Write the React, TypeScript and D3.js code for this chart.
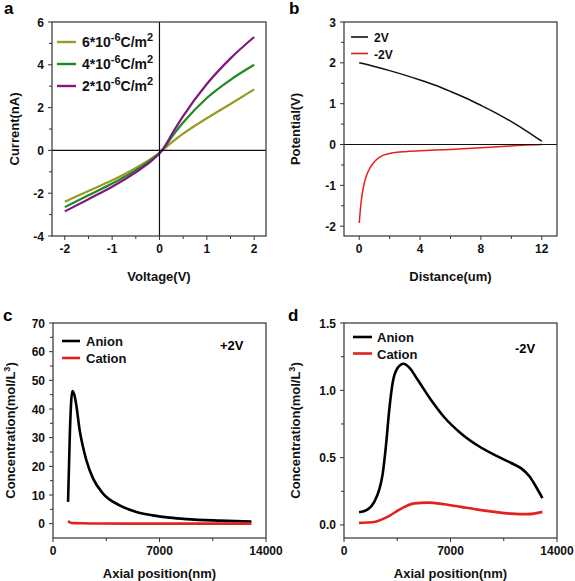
import React from "react";
import * as d3 from "d3";

// ---------- Panel a data ----------
const aVoltage = [-2, -1.5, -1, -0.5, -0.2, -0.05, 0, 0.1, 0.3, 0.5, 1, 1.5, 2];
const aSeries6 = [-2.4, -1.9, -1.4, -0.82, -0.42, -0.2, -0.12, 0.08, 0.45, 0.78, 1.5, 2.17, 2.85];
const aSeries4 = [-2.65, -2.1, -1.55, -0.92, -0.48, -0.22, -0.13, 0.12, 0.75, 1.3, 2.45, 3.3, 4.0];
const aSeries2 = [-2.85, -2.28, -1.7, -1.02, -0.55, -0.25, -0.14, 0.15, 0.9, 1.6, 3.1, 4.3, 5.3];
const aLabels = ["6", "4", "2"];
const aColors = ["#9a9a26", "#1f8a22", "#82177f"];

// ---------- Panel b data ----------
const bDistance2V = [0, 1, 2, 3, 4, 5, 6, 7, 8, 9, 10, 11, 12];
const bPotential2V = [2.0, 1.91, 1.81, 1.7, 1.58, 1.45, 1.3, 1.14, 0.96, 0.77, 0.56, 0.33, 0.08];
const bDistanceM2V = [0, 0.05, 0.1, 0.2, 0.35, 0.5, 0.7, 1, 1.3, 1.6, 2, 2.5, 3, 4, 6, 8, 10, 11, 12];
const bPotentialM2V = [-1.92, -1.7, -1.5, -1.2, -0.92, -0.74, -0.58, -0.42, -0.32, -0.26, -0.22, -0.19, -0.175, -0.155, -0.12, -0.08, -0.035, -0.012, 0];
const bLabels = ["2V", "-2V"];
const bColors = ["#111111", "#e3211e"];

// ---------- Panel c data ----------
const cPosAnion = [990, 1100, 1200, 1270, 1400, 1530, 1750, 1970, 2190, 2630, 3290, 4380, 5480, 6570, 7670, 8760, 10950, 13040];
const cAnion = [7.6, 30, 43, 46.3, 45, 41.4, 32.7, 26.8, 22.2, 15.8, 10.5, 6.4, 4.1, 2.9, 2.1, 1.6, 1.05, 0.7];
const cPosCation = [990, 1150, 1400, 2000, 3000, 5000, 8000, 13040];
const cCation = [0.9, 0.35, 0.2, 0.12, 0.06, 0.03, 0.02, 0.02];

// ---------- Panel d data ----------
const dPosAnion = [990, 1540, 1980, 2310, 2530, 2750, 2970, 3190, 3520, 3910, 4280, 4830, 5710, 6590, 7690, 8790, 9890, 10990, 11650, 12200, 12640, 13040];
const dAnion = [0.094, 0.114, 0.17, 0.26, 0.37, 0.58, 0.85, 1.05, 1.165, 1.197, 1.17, 1.08, 0.93, 0.8, 0.68, 0.59, 0.52, 0.46, 0.42, 0.36, 0.28, 0.2];
const dPosCation = [990, 1980, 2860, 3740, 4610, 5490, 6590, 7690, 8790, 9890, 10990, 12090, 13040];
const dCation = [0.015, 0.022, 0.06, 0.12, 0.16, 0.166, 0.154, 0.134, 0.114, 0.097, 0.084, 0.08, 0.097];
const ionLabels = ["Anion", "Cation"];
const ionColors = ["#000000", "#e3211e"];

const FONT = "'Liberation Sans', Arial, sans-serif";

type Series = { xs: number[]; ys: number[]; color: string; width: number };

type PanelProps = {
  x0: number; x1: number; y0: number; y1: number;
  xDomain: [number, number]; yDomain: [number, number];
  xTicks: number[]; xMinor: number[]; yTicks: number[]; yMinor: number[];
  xFormat: (v: number) => string; yFormat: (v: number) => string;
  xTitle: string; yTitle: React.ReactNode; yTitleX: number; xTitleY: number;
  series: Series[];
  zeroX?: boolean; zeroY?: boolean;
  children?: (xs: d3.ScaleLinear<number, number>, ys: d3.ScaleLinear<number, number>) => React.ReactNode;
};

function Panel(p: PanelProps) {
  const xs = d3.scaleLinear().domain(p.xDomain).range([p.x0, p.x1]);
  const ys = d3.scaleLinear().domain(p.yDomain).range([p.y1, p.y0]);
  const frame = "#333";
  return (
    <g>
      {p.series.map((s, i) => {
        const pts: [number, number][] = s.xs.map((x, j) => [x, s.ys[j]]);
        const line = d3
          .line<[number, number]>()
          .x((d) => xs(d[0]))
          .y((d) => ys(d[1]))
          .curve(d3.curveMonotoneX);
        return <path key={i} d={line(pts) || ""} fill="none" stroke={s.color} strokeWidth={s.width} strokeLinejoin="round" />;
      })}
      {p.zeroY && <line x1={p.x0} x2={p.x1} y1={ys(0)} y2={ys(0)} stroke="#111" strokeWidth={1.2} />}
      {p.zeroX && <line x1={xs(0)} x2={xs(0)} y1={p.y0} y2={p.y1} stroke="#111" strokeWidth={1.2} />}
      <rect x={p.x0} y={p.y0} width={p.x1 - p.x0} height={p.y1 - p.y0} fill="none" stroke={frame} strokeWidth={1.2} />
      {p.xTicks.map((t) => (
        <g key={"xt" + t}>
          <line x1={xs(t)} x2={xs(t)} y1={p.y1} y2={p.y1 + 4} stroke={frame} strokeWidth={1} />
          <text x={xs(t)} y={p.y1 + 17} textAnchor="middle" fontSize={12} fontWeight="bold" fontFamily={FONT} fill="#111">
            {p.xFormat(t)}
          </text>
        </g>
      ))}
      {p.xMinor.map((t) => (
        <line key={"xm" + t} x1={xs(t)} x2={xs(t)} y1={p.y1} y2={p.y1 + 3} stroke={frame} strokeWidth={1} />
      ))}
      {p.yTicks.map((t) => (
        <g key={"yt" + t}>
          <line x1={p.x0 - 4} x2={p.x0} y1={ys(t)} y2={ys(t)} stroke={frame} strokeWidth={1} />
          <text x={p.x0 - 8} y={ys(t) + 4.5} textAnchor="end" fontSize={12} fontWeight="bold" fontFamily={FONT} fill="#111">
            {p.yFormat(t)}
          </text>
        </g>
      ))}
      {p.yMinor.map((t) => (
        <line key={"ym" + t} x1={p.x0 - 3} x2={p.x0} y1={ys(t)} y2={ys(t)} stroke={frame} strokeWidth={1} />
      ))}
      <text x={(p.x0 + p.x1) / 2} y={p.xTitleY} textAnchor="middle" fontSize={13} fontWeight="bold" fontFamily={FONT} fill="#111">
        {p.xTitle}
      </text>
      <text
        transform={`translate(${p.yTitleX},${(p.y0 + p.y1) / 2}) rotate(-90)`}
        textAnchor="middle"
        fontSize={13}
        fontWeight="bold"
        fontFamily={FONT}
        fill="#111"
      >
        {p.yTitle}
      </text>
      {p.children && p.children(xs, ys)}
    </g>
  );
}

function LegendItem({ x1, x2, y, color, w, tx, children, size = 13 }: any) {
  return (
    <g>
      <line x1={x1} x2={x2} y1={y} y2={y} stroke={color} strokeWidth={w} />
      <text x={tx} y={y + 5} fontSize={size} fontWeight="bold" fontFamily={FONT} fill="#111">
        {children}
      </text>
    </g>
  );
}

export default function App() {
  const aData = [aSeries6, aSeries4, aSeries2];
  const fmtInt = (v: number) => d3.format("d")(v).replace("\u2212", "-");
  const fmt1 = (v: number) => d3.format(".1f")(v).replace("\u2212", "-");
  return (
    <svg width={575} height={581} style={{ position: "absolute", left: 0, top: 0, background: "#fff" }}>
      <rect width={575} height={581} fill="#fff" />
      {/* Panel a */}
      <Panel
        x0={52} x1={266} y0={22} y1={236}
        xDomain={[-2.27, 2.25]} yDomain={[-4, 6]}
        xTicks={[-2, -1, 0, 1, 2]} xMinor={[-1.5, -0.5, 0.5, 1.5]}
        yTicks={[-4, -2, 0, 2, 4, 6]} yMinor={[-3, -1, 1, 3, 5]}
        xFormat={fmtInt} yFormat={fmtInt}
        xTitle="Voltage(V)" yTitle="Current(nA)" yTitleX={19} xTitleY={281}
        zeroX zeroY
        series={aData.map((ys, i) => ({ xs: aVoltage, ys, color: aColors[i], width: 2.2 }))}
      >
        {() =>
          aLabels.map((l, i) => (
            <LegendItem key={l} x1={57} x2={76} y={42 + i * 22} color={aColors[i]} w={2.4} tx={82} size={14}>
              {l}*10<tspan dy={-6} fontSize={11}>-6</tspan>
              <tspan dy={6}>C/m</tspan>
              <tspan dy={-6} fontSize={11}>2</tspan>
            </LegendItem>
          ))
        }
      </Panel>
      <text x={4} y={14} fontSize={17} fontWeight="bold" fontFamily={FONT}>a</text>

      {/* Panel b */}
      <Panel
        x0={344} x1={557} y0={22} y1={236}
        xDomain={[-1, 13]} yDomain={[-2.24, 3]}
        xTicks={[0, 4, 8, 12]} xMinor={[2, 6, 10]}
        yTicks={[-2, -1, 0, 1, 2, 3]} yMinor={[-1.5, -0.5, 0.5, 1.5, 2.5]}
        xFormat={fmtInt} yFormat={fmtInt}
        xTitle="Distance(um)" yTitle="Potential(V)" yTitleX={300} xTitleY={281}
        zeroY
        series={[
          { xs: bDistance2V, ys: bPotential2V, color: bColors[0], width: 1.5 },
          { xs: bDistanceM2V, ys: bPotentialM2V, color: bColors[1], width: 1.5 },
        ]}
      >
        {() =>
          bLabels.map((l, i) => (
            <LegendItem key={l} x1={351} x2={368} y={37 + i * 16.5} color={bColors[i]} w={1.6} tx={374} size={12}>
              {l}
            </LegendItem>
          ))
        }
      </Panel>
      <text x={289} y={14} fontSize={17} fontWeight="bold" fontFamily={FONT}>b</text>

      {/* Panel c */}
      <Panel
        x0={53} x1={266} y0={323} y1={538}
        xDomain={[0, 14000]} yDomain={[-5, 70]}
        xTicks={[0, 7000, 14000]} xMinor={[3500, 10500]}
        yTicks={[0, 10, 20, 30, 40, 50, 60, 70]} yMinor={[5, 15, 25, 35, 45, 55, 65]}
        xFormat={fmtInt} yFormat={fmtInt}
        xTitle="Axial position(nm)" yTitle={<>Concentration(mol/L<tspan dy={-5} fontSize={9}>3</tspan><tspan dy={5}>)</tspan></>}
        yTitleX={15} xTitleY={578}
        series={[
          { xs: cPosAnion, ys: cAnion, color: ionColors[0], width: 2.6 },
          { xs: cPosCation, ys: cCation, color: ionColors[1], width: 2.6 },
        ]}
      >
        {() => (
          <>
            {ionLabels.map((l, i) => (
              <LegendItem key={l} x1={62} x2={80} y={341 + i * 17} color={ionColors[i]} w={2.6} tx={86}>
                {l}
              </LegendItem>
            ))}
            <text x={220} y={350} fontSize={13} fontWeight="bold" fontFamily={FONT}>+2V</text>
          </>
        )}
      </Panel>
      <text x={3} y={321} fontSize={17} fontWeight="bold" fontFamily={FONT}>c</text>

      {/* Panel d */}
      <Panel
        x0={344} x1={557} y0={323} y1={538}
        xDomain={[0, 14000]} yDomain={[-0.097, 1.5]}
        xTicks={[0, 7000, 14000]} xMinor={[3500, 10500]}
        yTicks={[0, 0.5, 1.0, 1.5]} yMinor={[0.25, 0.75, 1.25]}
        xFormat={fmtInt} yFormat={fmt1}
        xTitle="Axial position(nm)" yTitle={<>Concentration(mol/L<tspan dy={-5} fontSize={9}>3</tspan><tspan dy={5}>)</tspan></>}
        yTitleX={300} xTitleY={578}
        series={[
          { xs: dPosAnion, ys: dAnion, color: ionColors[0], width: 2.6 },
          { xs: dPosCation, ys: dCation, color: ionColors[1], width: 2.6 },
        ]}
      >
        {() => (
          <>
            {ionLabels.map((l, i) => (
              <LegendItem key={l} x1={353} x2={372} y={337 + i * 16.5} color={ionColors[i]} w={2.6} tx={377}>
                {l}
              </LegendItem>
            ))}
            <text x={515} y={353} fontSize={13} fontWeight="bold" fontFamily={FONT}>-2V</text>
          </>
        )}
      </Panel>
      <text x={288} y={321} fontSize={17} fontWeight="bold" fontFamily={FONT}>d</text>
    </svg>
  );
}
